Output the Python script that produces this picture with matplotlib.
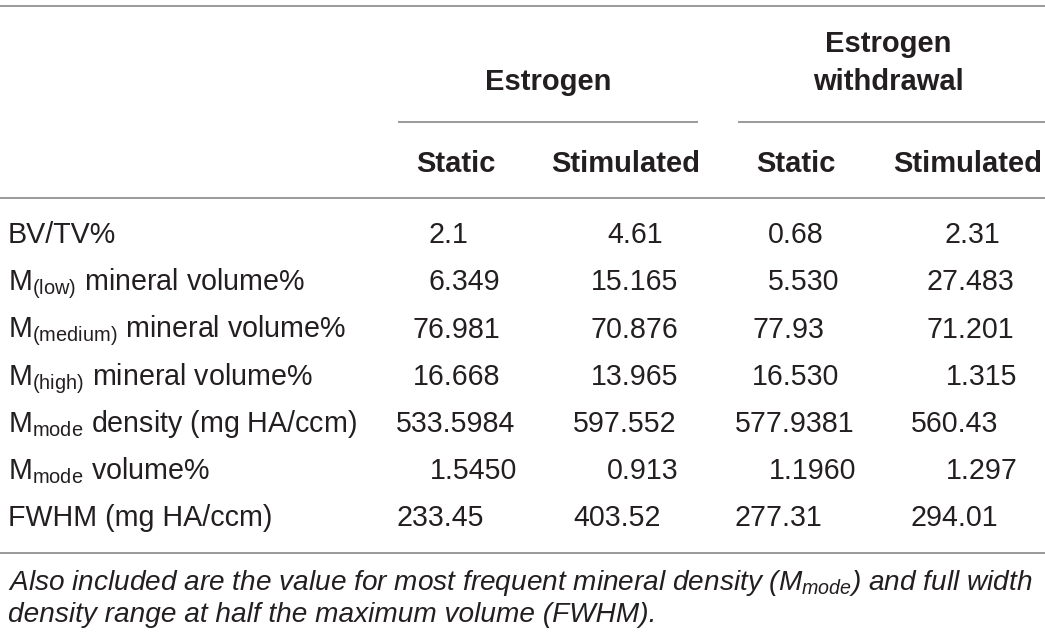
import matplotlib
matplotlib.use("Agg")
import matplotlib.pyplot as plt

plt.rcParams['font.family'] = ['Liberation Sans', 'DejaVu Sans']
plt.rcParams['mathtext.fontset'] = 'custom'
plt.rcParams['mathtext.rm'] = 'Liberation Sans'
plt.rcParams['mathtext.it'] = 'Liberation Sans:italic'
plt.rcParams['mathtext.bf'] = 'Liberation Sans:bold'

# table content
groups = ["Estrogen", "Estrogen\nwithdrawal"]
sub_cols = ["Static", "Stimulated", "Static", "Stimulated"]
row_labels = [
    "BV/TV%",
    r"M$_{\mathrm{(low)}}$ mineral volume%",
    r"M$_{\mathrm{(medium)}}$ mineral volume%",
    r"M$_{\mathrm{(high)}}$ mineral volume%",
    r"M$_{\mathrm{mode}}$ density (mg HA/ccm)",
    r"M$_{\mathrm{mode}}$ volume%",
    "FWHM (mg HA/ccm)",
]
estrogen_static = ["2.1", "6.349", "76.981", "16.668", "533.5984", "1.5450", "233.45"]
estrogen_stim = ["4.61", "15.165", "70.876", "13.965", "597.552", "0.913", "403.52"]
withdrawal_static = ["0.68", "5.530", "77.93", "16.530", "577.9381", "1.1960", "277.31"]
withdrawal_stim = ["2.31", "27.483", "71.201", "1.315", "560.43", "1.297", "294.01"]
caption = [
    r"Also included are the value for most frequent mineral density ($\mathit{M}_{\mathit{mode}}$) and full width",
    "density range at half the maximum volume (FWHM).",
]

columns = [estrogen_static, estrogen_stim, withdrawal_static, withdrawal_stim]

# layout (pixels, baselines)
W, H = 1045, 638
col_x = [396, 573, 735, 911]
cell_shift = [
    [33, 33, 17, 17, 0, 34, 0],
    [34, 18, 18, 18, 0, 34, 0],
    [33, 33, 17, 17, 0, 34, 0],
    [33, 16, 16, 35, 0, 35, 0],
]
row_y = [243, 290, 337.5, 385, 432, 479, 526]
group_x = [548, 888]
sub_x = [456, 626, 796, 968]
txt = "#231f20"
rule = "#9a9a9a"
fs = 20.6
fs_head = 21
fs_cap = 20.2

fig = plt.figure(figsize=(W / 100, H / 100), dpi=100)
ax = fig.add_axes([0, 0, 1, 1])
ax.set_xlim(0, W)
ax.set_ylim(H, 0)
ax.axis("off")

# rules
ax.plot([0, W], [5.5, 5.5], color=rule, lw=1.4)
ax.plot([399, 697], [121.5, 121.5], color=rule, lw=1.4)
ax.plot([739, W], [121.5, 121.5], color=rule, lw=1.4)
ax.plot([0, W], [198, 198], color=rule, lw=1.4)
ax.plot([0, W], [552.5, 552.5], color=rule, lw=1.4)

# headers
ax.text(group_x[0], 90.5, groups[0], ha="center", va="baseline", fontsize=fs_head,
        fontweight="bold", color=txt)
g2_top, g2_bottom = groups[1].split("\n")
ax.text(group_x[1], 52, g2_top, ha="center", va="baseline", fontsize=fs_head,
        fontweight="bold", color=txt)
ax.text(group_x[1], 90.5, g2_bottom, ha="center", va="baseline", fontsize=fs_head,
        fontweight="bold", color=txt)
for x, name in zip(sub_x, sub_cols):
    ax.text(x, 172.5, name, ha="center", va="baseline", fontsize=fs_head,
            fontweight="bold", color=txt)

# body
for y, lab in zip(row_y, row_labels):
    ax.text(8, y, lab, ha="left", va="baseline", fontsize=fs, color=txt)
for ci, col in enumerate(columns):
    for ri, val in enumerate(col):
        ax.text(col_x[ci] + cell_shift[ci][ri], row_y[ri], val, ha="left",
                va="baseline", fontsize=fs, color=txt)

# caption
ax.text(8, 590, caption[0], ha="left", va="baseline", fontsize=fs_cap,
        style="italic", color=txt)
ax.text(8, 622, caption[1], ha="left", va="baseline", fontsize=fs_cap,
        style="italic", color=txt)

fig.savefig("out.png", dpi=100)
